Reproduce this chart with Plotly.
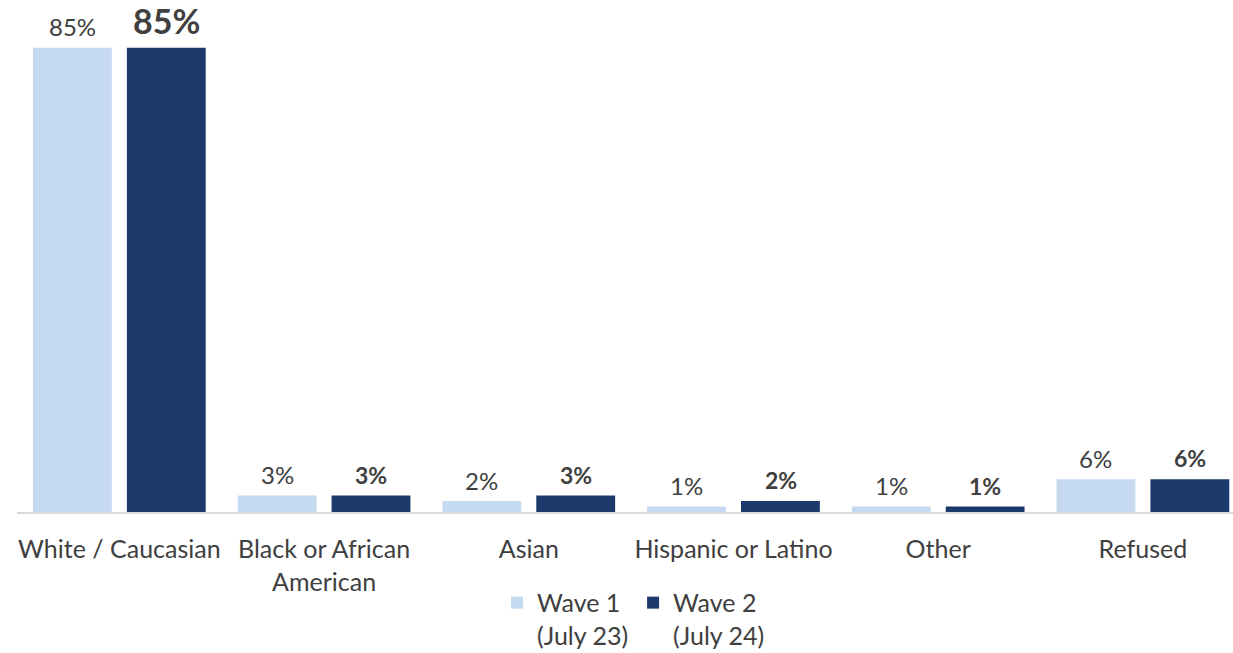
import plotly.graph_objects as go

# Survey responses by race / ethnicity, two survey waves
categories = ["White / Caucasian", "Black or African<br>American", "Asian",
              "Hispanic or Latino", "Other", "Refused"]
wave1 = [85, 3, 2, 1, 1, 6]
wave2 = [85, 3, 3, 2, 1, 6]
series_names = ["Wave 1<br>(July 23)", "Wave 2<br>(July 24)"]

FONT = "Lato, 'Open Sans', sans-serif"
TXT = "#404040"
LIGHT = "#c5d9f0"
DARK = "#1b3a6b"

fig = go.Figure()
fig.add_trace(go.Bar(
    x=categories, y=wave1, name=series_names[0],
    marker=dict(color=LIGHT, line=dict(width=0)), hoverinfo="skip",
))
fig.add_trace(go.Bar(
    x=categories, y=wave2, name=series_names[1],
    marker=dict(color=DARK, line=dict(width=0)), hoverinfo="skip",
))

# value labels above each bar (wave 2 in bold, headline bar larger)
annotations = []
for i, (cat, v1, v2) in enumerate(zip(categories, wave1, wave2)):
    big = i == 0
    annotations.append(dict(
        x=cat, y=v1, xref="x", yref="y", text=f"{v1}%", showarrow=False,
        xshift=-47, yshift=21, yanchor="middle",
        font=dict(family=FONT, color=TXT, size=24),
    ))
    annotations.append(dict(
        x=cat, y=v2, xref="x", yref="y", text=f"<b>{v2}%</b>", showarrow=False,
        xshift=47, yshift=27 if big else 21, yanchor="middle",
        font=dict(family=FONT, color=TXT, size=34 if big else 23),
    ))

fig.update_layout(
    width=1233, height=653,
    margin=dict(l=17, r=0, t=20, b=141, autoexpand=False),
    paper_bgcolor="white", plot_bgcolor="white",
    barmode="group", bargap=0.083, bargroupgap=0.16,
    font=dict(family=FONT, color=TXT, size=25),
    showlegend=True,
    legend=dict(
        orientation="h", x=0.507, xanchor="center", y=-0.138, yanchor="top",
        font=dict(family=FONT, color=TXT, size=25), valign="top",
        itemwidth=30, tracegroupgap=0,
    ),
    annotations=annotations,
    xaxis=dict(
        range=[-0.5, 5.44], showgrid=False, zeroline=False,
        showline=True, linecolor="#d9d9d9", linewidth=2,
        ticks="", ticklabelstandoff=14, automargin=False,
        tickfont=dict(family=FONT, color=TXT, size=25),
        fixedrange=True,
    ),
    yaxis=dict(
        range=[0, 90.1], showgrid=False, zeroline=False, showline=False,
        showticklabels=False, ticks="", fixedrange=True, automargin=False,
    ),
)

fig.write_html("out.html")
